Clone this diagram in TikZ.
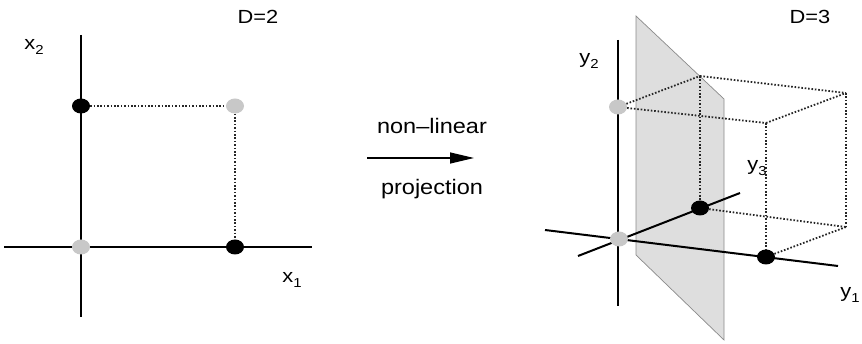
\documentclass[tikz,border=0pt]{standalone}
\usepackage{fontspec}
\setmainfont{Liberation Sans}
\usetikzlibrary{shapes.geometric,arrows.meta}
\definecolor{dotgray}{HTML}{C8C8C8}
\definecolor{planegray}{HTML}{DEDEDE}
\definecolor{planeedge}{HTML}{8A8A8A}
\tikzset{
  axis/.style={line width=2.5pt,black},
  axisthin/.style={line width=2pt,black},
  dotline/.style={line width=1.8pt,dash pattern=on 1.6pt off 1.8pt,black!85},
  bdot/.style={ellipse,fill=black,minimum width=18pt,minimum height=15pt,inner sep=0pt},
  gdot/.style={ellipse,fill=dotgray,minimum width=18pt,minimum height=15pt,inner sep=0pt},
  lbl/.style={font=\fontsize{19}{19}\selectfont,inner sep=0pt,xscale=1.15},
  mid/.style={font=\fontsize{21}{21}\selectfont,inner sep=0pt,xscale=1.12},
}
\newcommand{\mysub}[1]{\raisebox{-0.45ex}{\fontsize{13}{13}\selectfont #1}}
\begin{document}
\begin{tikzpicture}[x=1pt,y=-1pt]
\useasboundingbox (0,0) rectangle (862,344);
% ---- left panel ----
\coordinate (vt) at (81,35);
\coordinate (vb) at (81,317);
\coordinate (hl) at (4,247);
\coordinate (hr) at (312,247);
\draw[axis] (vt) -- (vb);
\draw[axis] (hl) -- (hr);
\node[bdot] (a2) at (81,106) {};
\node[gdot] (ap) at (235,106) {};
\node[gdot] (a0) at (81,247) {};
\node[bdot] (a1) at (235,247) {};
\draw[dotline] (a2) -- (ap);
\draw[dotline] (ap) -- (a1);
\node[lbl] (d2) at (258,17) {D=2};
\node[lbl] (x2) at (34,47) {x\mysub{2}};
\node[lbl] (x1) at (292,280) {x\mysub{1}};
% ---- middle ----
\coordinate (ar0) at (367,158);
\coordinate (ar1) at (474,158);
\draw[line width=1.3pt,-{Triangle[length=24pt,width=11pt]}] (ar0) -- (ar1);
\node[mid] (t1) at (432,126) {non–linear};
\node[mid] (t2) at (432,189) {projection};
% ---- right panel ----
\coordinate (pl1) at (636,16);
\coordinate (pl2) at (724,99);
\coordinate (pl3) at (724,340);
\coordinate (pl4) at (636,255);
\coordinate (y2t) at (618,40);
\coordinate (y2b) at (618,306);
\draw[axisthin] (y2t) -- (y2b);
\filldraw[fill=planegray,draw=planeedge,line width=0.7pt] (pl1) -- (pl2) -- (pl3) -- (pl4) -- cycle;
\coordinate (y1l) at (545,230);
\coordinate (y1r) at (838,266);
\coordinate (y3l) at (578,256);
\coordinate (y3r) at (740,193);
\draw[axisthin] (y1l) -- (y1r);
\draw[axisthin] (y3l) -- (y3r);
\coordinate (B) at (700,76);
\coordinate (C) at (846,93);
\coordinate (D) at (766,123);
\coordinate (G) at (846,227);
\node[gdot] (b0) at (619,239) {};
\node[gdot] (bA) at (618,107) {};
\node[bdot] (bF) at (700,208) {};
\node[bdot] (bE) at (766,257) {};
\draw[dotline] (bA) -- (B);
\draw[dotline] (bA) -- (D);
\draw[dotline] (B) -- (C);
\draw[dotline] (D) -- (C);
\draw[dotline] (B) -- (bF);
\draw[dotline] (D) -- (bE);
\draw[dotline] (C) -- (G);
\draw[dotline] (bF) -- (G);
\draw[dotline] (bE) -- (G);
\node[lbl] (d3) at (810,17) {D=3};
\node[lbl] (y2) at (589,61) {y\mysub{2}};
\node[lbl] (y3) at (757,168) {y\mysub{3}};
\node[lbl] (y1) at (850,295) {y\mysub{1}};
\end{tikzpicture}
\end{document}
